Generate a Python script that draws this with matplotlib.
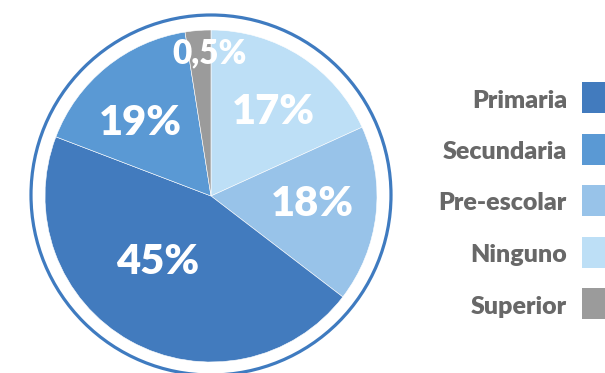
import matplotlib.pyplot as plt
from matplotlib.patches import Circle, Rectangle
import numpy as np

# slices in drawing order (clockwise from 12 o'clock)
categories = ['Ninguno', 'Pre-escolar', 'Primaria', 'Secundaria', 'Superior']
shares = [18.2, 17.2, 45.4, 16.7, 2.5]          # wedge sizes as drawn
pct_labels = ['17%', '18%', '45%', '19%', '0,5%']
colors = ['#BDDFF6', '#98C3E9', '#427BBE', '#5A99D4', '#9B9B9B']

legend_order = ['Primaria', 'Secundaria', 'Pre-escolar', 'Ninguno', 'Superior']

W, H = 605, 373
fig = plt.figure(figsize=(W / 100, H / 100), dpi=100)
ax = fig.add_axes([0, 0, 1, 1])

cx, cy, R = 211, H - 196, 166
wedges, _ = ax.pie(shares, colors=colors, startangle=90, counterclock=False,
                   center=(cx, cy), radius=R,
                   wedgeprops=dict(edgecolor='white', linewidth=0.4))
ax.add_patch(Circle((cx, cy + 1), 180, fill=False, edgecolor='#3F7BC0', lw=2.3))

# label placement: radial fraction, small angle nudge and size per wedge
rfrac = [0.63, 0.61, 0.51, 0.61, 0.86]
nudge = [-4, 2, -10, 5, -4]
sizes = [30, 30, 30, 30, 24]
for w, lab, rf, dn, fs in zip(wedges, pct_labels, rfrac, nudge, sizes):
    t = np.deg2rad((w.theta1 + w.theta2) / 2 + dn)
    ax.text(cx + rf * R * np.cos(t), cy + rf * R * np.sin(t), lab,
            ha='center', va='center', color='white', fontsize=fs,
            fontweight='heavy', family='Lato')

# legend on the right
col = dict(zip(categories, colors))
for i, name in enumerate(legend_order):
    yc = H - (97.5 + i * 51.5)
    ax.add_patch(Rectangle((582, yc - 15.5), 31, 31, color=col[name], lw=0))
    ax.text(567, yc - 3, name, ha='right', va='center', color='#686868',
            fontsize=18, fontweight='heavy', family='Lato')

ax.set_xlim(0, W)
ax.set_ylim(0, H)
ax.set_aspect('equal')
ax.axis('off')
fig.savefig('out.png', dpi=100)
